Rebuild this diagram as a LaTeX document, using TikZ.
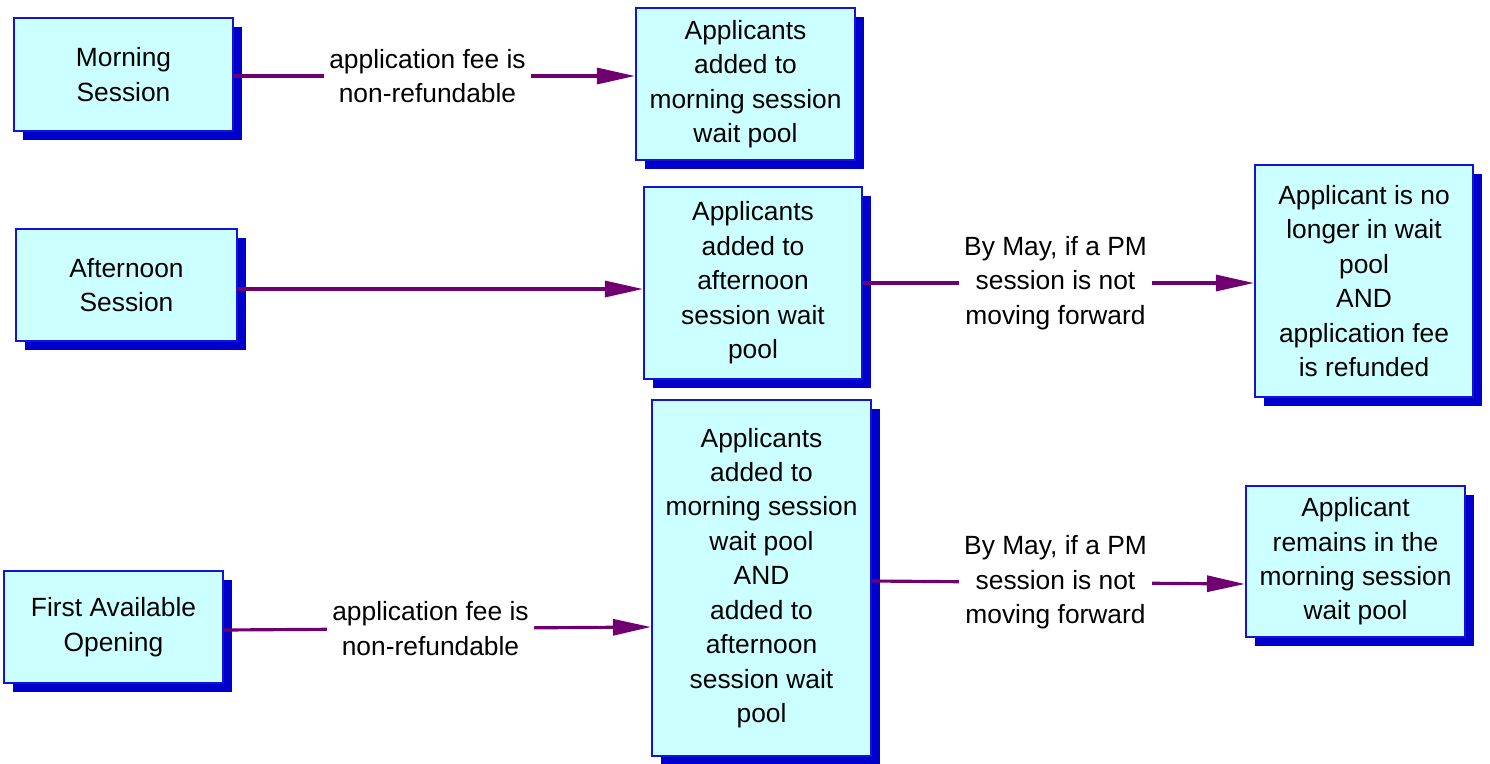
\documentclass[tikz,border=0pt]{standalone}
\usepackage{fontspec}
\setmainfont{Liberation Sans}
\usetikzlibrary{arrows.meta,shadows}

\definecolor{boxfill}{RGB}{204,255,255}
\definecolor{boxline}{RGB}{20,20,215}
\definecolor{boxshade}{RGB}{0,0,204}
\definecolor{arrowpurple}{RGB}{112,0,112}

\begin{document}
\begin{tikzpicture}[font=\fontsize{15}{19.6}\selectfont]
\tikzstyle{stage}=[draw=boxline,line width=1.2pt,fill=boxfill,align=center,inner sep=0pt,
  drop shadow={shadow xshift=0.17cm,shadow yshift=-0.17cm,opacity=1,fill=boxshade}]
\tikzstyle{flow}=[draw=arrowpurple,line width=1.8pt,-{Triangle[length=0.76cm,width=0.32cm]}]
\tikzstyle{cond}=[fill=white,align=center,inner xsep=3pt,inner ysep=1pt]

\useasboundingbox (0,0) rectangle (29.8,-15.26);

% ========= requests
\node (morning) [stage,minimum width=4.38cm,minimum height=2.26cm] at (2.47,-1.49) {Morning\\Session};
\node (afternoon) [stage,minimum width=4.42cm,minimum height=2.24cm] at (2.53,-5.70) {Afternoon\\Session};
\node (first) [stage,minimum width=4.38cm,minimum height=2.24cm] at (2.27,-12.54) {First Available\\Opening};

% ========= wait pools
\node (mpool) [stage,minimum width=4.38cm,minimum height=3.04cm] at (14.91,-1.68)
  {Applicants\\added to\\morning session\\wait pool};
\node (apool) [stage,minimum width=4.36cm,minimum height=3.84cm] at (15.06,-5.66)
  {Applicants\\added to\\afternoon\\session wait\\pool};
\node (both) [stage,minimum width=4.38cm,minimum height=7.12cm] at (15.23,-11.56)
  {Applicants\\added to\\morning session\\wait pool\\AND\\added to\\afternoon\\session wait\\pool};

% ========= outcomes
\node (refund) [stage,minimum width=4.36cm,minimum height=4.64cm] at (27.28,-5.62)
  {Applicant is no\\longer in wait\\pool\\AND\\application fee\\is refunded};
\node (remains) [stage,minimum width=4.38cm,minimum height=3.02cm] at (27.11,-11.23)
  {Applicant\\remains in the\\morning session\\wait pool};

% ====== connections
\draw [flow] ([yshift=-0.03cm]morning.east) -- node [cond,xshift=-0.14cm] {application fee is\\non-refundable}
  ([yshift=-0.03cm]mpool.west |- morning.east);
\draw [flow] ([yshift=-0.08cm]afternoon.east) -- ([yshift=-0.08cm]apool.west |- afternoon.east);
\draw [flow] (apool.east) -- node [cond,xshift=-0.06cm] {By May, if a PM\\session is not\\moving forward} (refund.west |- apool.east);
\draw [flow] ([yshift=-0.06cm]first.east) -- node [cond,xshift=-0.14cm] {application fee is\\non-refundable}
  (both.west |- first.east);
\draw [flow] ([yshift=-0.06cm]both.east) -- node [cond,xshift=-0.06cm] {By May, if a PM\\session is not\\moving forward}
  ([yshift=-0.12cm]remains.west |- both.east);
\end{tikzpicture}
\end{document}
